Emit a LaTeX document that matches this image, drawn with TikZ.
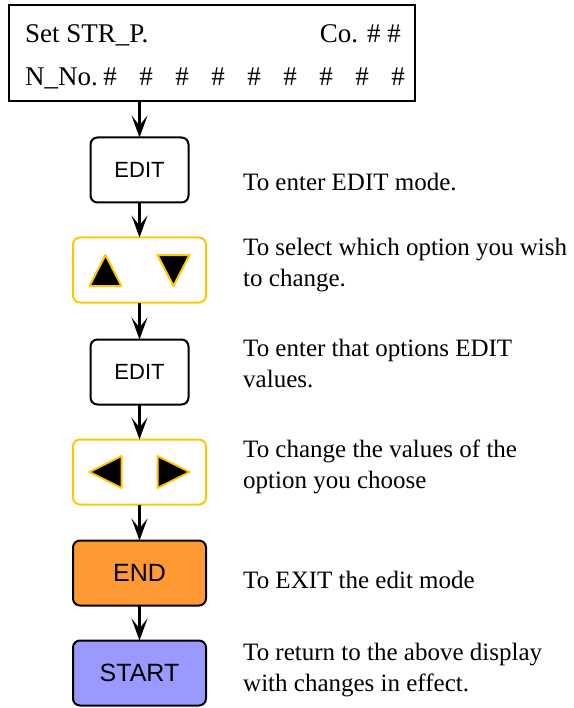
\documentclass[tikz,border=0pt]{standalone}
\usepackage{fontspec}
\setmainfont{Liberation Serif}
\setsansfont{Liberation Sans}
\usetikzlibrary{positioning}
\usetikzlibrary{calc}
\usetikzlibrary{arrows.meta}
\definecolor{keyyellow}{RGB}{255,200,0}
\definecolor{keyorange}{RGB}{255,153,51}
\definecolor{keyblue}{RGB}{153,153,255}

\begin{document}
\begin{tikzpicture}[x=1pt, y=-1pt,
		key/.style={draw, line width=2pt, rounded corners=7pt, minimum height=65pt, inner sep=0pt, outer sep=0pt,
			font=\sffamily\fontsize{22}{26}\selectfont},
		editkey/.style={key, minimum width=98pt},
		arrowkey/.style={key, draw=keyyellow, minimum width=133pt},
		widekey/.style={key, minimum width=133pt, font=\sffamily\fontsize{25}{30}\selectfont},
		lcdtext/.style={font=\fontsize{27}{31}\selectfont, inner sep=0pt},
		note/.style={font=\fontsize{25}{31}\selectfont, align=left, anchor=west, inner sep=0pt},
		flow/.style={-{Stealth[length=22pt, width=16pt, inset=10pt]}, line width=2.5pt},
		tri/.style={fill=black, draw=keyyellow, line width=2pt, line join=round}]
		\useasboundingbox (0,0) rectangle (573,708);
		% display
		\node[draw, line width=2pt, minimum width=406pt, minimum height=96pt, inner sep=0pt, outer sep=0pt] (lcd) at (212,53) {};
		\node[lcdtext, anchor=base west] (title) at (25,43) {Set STR\_P.};
		\node[lcdtext, anchor=base east] (cono) at (401,43) {Co. \# \#};
		\node[lcdtext, anchor=base west] (nno) at (25,86) {N\_No.};
		\foreach \i in {1,...,9}
			\node[lcdtext, anchor=base] (hash\i) at ({74+36*\i},86) {\#};
		% keys
		\node[editkey] (edita) at (139.5,170) {EDIT};
		\node[arrowkey, below = 35pt of edita] (updown) {};
		\node[editkey, below = 37pt of updown] (editb) {EDIT};
		\node[arrowkey, below = 35pt of editb] (leftright) {};
		\node[widekey, fill=keyorange, below = 36pt of leftright] (endkey) {END};
		\node[widekey, fill=keyblue, below = 35pt of endkey] (startkey) {START};
		\draw[tri] ($(updown)+(-50,16)$) -- ($(updown)+(-18,16)$) -- ($(updown)+(-34,-15)$) -- cycle;
		\draw[tri] ($(updown)+(18,-15)$) -- ($(updown)+(50,-15)$) -- ($(updown)+(34,16)$) -- cycle;
		\draw[tri] ($(leftright)+(-50,0)$) -- ($(leftright)+(-18,-16)$) -- ($(leftright)+(-18,16)$) -- cycle;
		\draw[tri] ($(leftright)+(50,0)$) -- ($(leftright)+(18,-16)$) -- ($(leftright)+(18,16)$) -- cycle;
		% arrows
		\draw[flow] (edita |- lcd.south) -- (edita);
		\foreach \a/\b in {edita/updown, updown/editb, editb/leftright, leftright/endkey, endkey/startkey}
			\draw[flow] (\a) -- (\b);
		% notes
		\node[note] (noteedita) at (243,182) {To enter EDIT mode.};
		\node[note] (noteupdown) at (243,265) {To select which option you wish\\to change.};
		\node[note] (noteeditb) at (243,364) {To enter that options EDIT\\values.};
		\node[note] (noteleftright) at (243,467) {To change the values of the\\option you choose};
		\node[note] (noteend) at (243,580) {To EXIT the edit mode};
		\node[note] (notestart) at (243,670) {To return to the above display\\with changes in effect.};
	\end{tikzpicture}
\end{document}
